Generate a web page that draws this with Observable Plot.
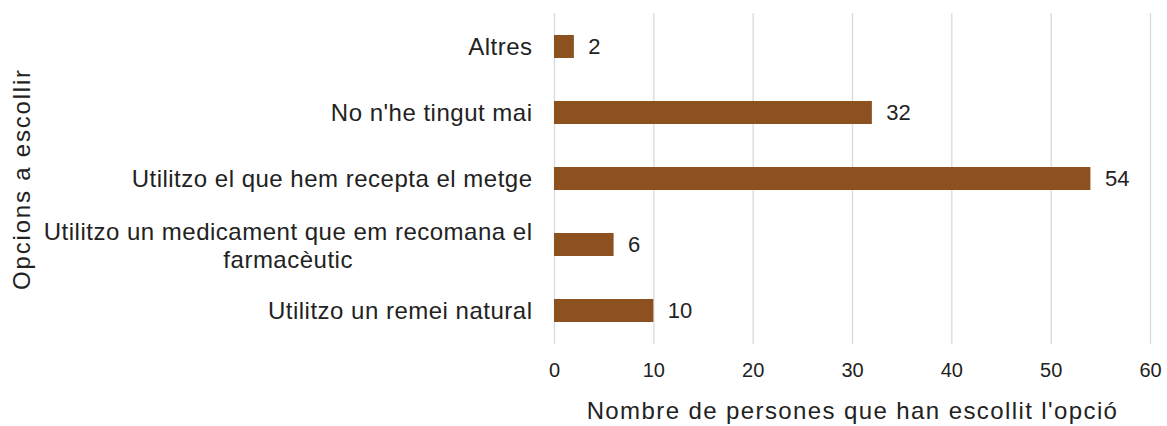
<!DOCTYPE html>
<html>
<head>
<meta charset="utf-8">
<script src="https://cdn.jsdelivr.net/npm/d3@7"></script>
<script src="https://cdn.jsdelivr.net/npm/@observablehq/plot@0.6"></script>
<style>
  html, body { margin: 0; padding: 0; background: #fff; }
  #chart svg { display: block; }
  .cat-label { letter-spacing: 0.5px; }
</style>
</head>
<body>
<div id="chart"></div>
<script>
const categories = [
  "Altres",
  "No n'he tingut mai",
  "Utilitzo el que hem recepta el metge",
  "Utilitzo un medicament que em recomana el\nfarmacèutic",
  "Utilitzo un remei natural"
];
const values = [2, 32, 54, 6, 10];
const xTicks = [0, 10, 20, 30, 40, 50, 60];
const xLabel = "Nombre de persones que han escollit l'opció";
const yLabel = "Opcions a escollir";

const data = categories.map((c, i) => ({label: c, value: values[i]}));
const single = data.filter(d => !d.label.includes("\n"));
const multi = data.filter(d => d.label.includes("\n"));

const FONT = "'Liberation Sans', Arial, Helvetica, sans-serif";
const labelSize = 24;
const labelSpacing = 0.5;
const ctx = document.createElement("canvas").getContext("2d");
ctx.font = `${labelSize}px 'Liberation Sans'`;
const maxLineW = s => Math.max(...s.split("\n").map(l => ctx.measureText(l).width + l.length * labelSpacing));
const gap = 22;

const marks = [
  Plot.gridX(xTicks, {stroke: "#d9d9d9", strokeOpacity: 1, strokeWidth: 1.3}),
  Plot.barX(data, {x: "value", y: "label", fill: "#8c511f"}),
  Plot.text(data, {x: "value", y: "label", text: d => String(d.value), textAnchor: "start", dx: 14, fontSize: 22, fill: "#222"}),
  Plot.axisX({ticks: xTicks, tickSize: 0, tickPadding: 18, fontSize: 20, label: xLabel, labelAnchor: "center", labelArrow: "none", labelOffset: 74}),
  Plot.axisY({tickSize: 0, tickFormat: () => "", label: yLabel, labelAnchor: "center", labelArrow: "none", labelOffset: 542}),
  Plot.text(single, {x: 0, y: "label", text: "label", textAnchor: "end", dx: -gap, fontSize: labelSize, fill: "#222", className: "cat-label"})
];
for (const d of multi) {
  marks.push(Plot.text([d], {x: 0, y: "label", text: "label", textAnchor: "middle", dx: -(gap + maxLineW(d.label) / 2), fontSize: labelSize, fill: "#222", lineHeight: 1.15, className: "cat-label"}));
}

const chart = Plot.plot({
  width: 1167,
  height: 426,
  marginLeft: 554,
  marginRight: 17,
  marginTop: 13,
  marginBottom: 82,
  style: {fontFamily: FONT, fontSize: "20px", color: "#222", background: "#fff"},
  x: {domain: [0, 60]},
  y: {domain: categories, paddingInner: 0.653, paddingOuter: 0.325},
  marks
});
chart.querySelectorAll("[aria-label='x-axis label'] text").forEach(t => {
  t.setAttribute("font-size", 24);
  t.setAttribute("letter-spacing", "1.4px");
});
chart.querySelectorAll("[aria-label='y-axis label'] text").forEach(t => {
  t.setAttribute("font-size", 24);
  t.setAttribute("letter-spacing", "1.8px");
});
document.getElementById("chart").append(chart);
</script>
</body>
</html>
